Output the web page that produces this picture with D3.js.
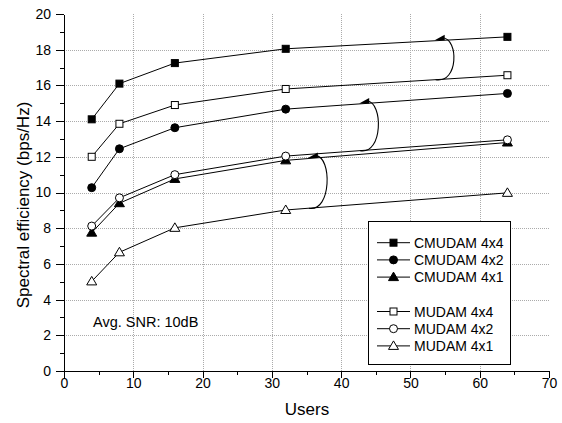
<!DOCTYPE html>
<html>
<head>
<meta charset="utf-8">
<script src="https://cdnjs.cloudflare.com/ajax/libs/d3/7.8.5/d3.min.js"></script>
<style>
body { margin: 0; background: #fff; }
svg text { font-family: Arial, "Liberation Sans", sans-serif; fill: #000; }
.grid line { stroke: #ababab; stroke-width: 1; stroke-dasharray: 1,1; }
.axis path, .axis line { stroke: #000; stroke-width: 1; shape-rendering: crispEdges; }
.series { fill: none; stroke: #000; stroke-width: 1; }
</style>
</head>
<body>
<svg class="main" width="562" height="423"></svg>
<script>
// x values (number of users)
var users = [4, 8, 16, 32, 64];

// spectral efficiency (bps/Hz)
var cmudam4x4 = [14.1, 16.1, 17.25, 18.05, 18.72];
var cmudam4x2 = [10.27, 12.45, 13.63, 14.67, 15.55];
var cmudam4x1 = [7.75, 9.4, 10.76, 11.8, 12.8];
var mudam4x4 = [12.0, 13.85, 14.9, 15.8, 16.57];
var mudam4x2 = [8.12, 9.7, 11.0, 12.04, 12.95];
var mudam4x1 = [5.02, 6.65, 8.02, 9.02, 9.98];

var seriesNames = ["CMUDAM 4x4", "CMUDAM 4x2", "CMUDAM 4x1", "MUDAM 4x4", "MUDAM 4x2", "MUDAM 4x1"];
var seriesValues = [cmudam4x4, cmudam4x2, cmudam4x1, mudam4x4, mudam4x2, mudam4x1];
var seriesShapes = ["square", "circle", "triangle", "square", "circle", "triangle"];
var seriesFilled = [true, true, true, false, false, false];

// curved arrows: x position (users), from series index -> to series index
var arrowX = [53.5, 42.6, 35.2];
var arrowFrom = [3, 4, 5];
var arrowTo = [0, 1, 2];

var xTicks = [0, 10, 20, 30, 40, 50, 60, 70];
var yTicks = [0, 2, 4, 6, 8, 10, 12, 14, 16, 18, 20];

var xLabel = "Users";
var yLabel = "Spectral efficiency (bps/Hz)";
var note = "Avg. SNR: 10dB";

var svg = d3.select("svg.main");

var x = d3.scaleLinear().domain([0, 70]).range([64, 549]);
var y = d3.scaleLinear().domain([0, 20]).range([371, 14]);

// grid
var grid = svg.append("g").attr("class", "grid");
grid.selectAll("line.gx")
    .data(xTicks.filter(function (d) { return d > 0 && d < 70; }))
    .enter().append("line")
    .attr("x1", function (d) { return Math.round(x(d)) + 0.5; })
    .attr("x2", function (d) { return Math.round(x(d)) + 0.5; })
    .attr("y1", y(0))
    .attr("y2", y(20));
grid.selectAll("line.gy")
    .data(yTicks.filter(function (d) { return d > 0 && d < 20; }))
    .enter().append("line")
    .attr("x1", x(0))
    .attr("x2", x(70))
    .attr("y1", function (d) { return Math.round(y(d)) + 0.5; })
    .attr("y2", function (d) { return Math.round(y(d)) + 0.5; });

// axes, major + minor ticks
function minorAxis(axis, scale, vals) {
    return axis(scale).tickValues(vals).tickSize(4).tickSizeOuter(0).tickFormat("");
}
svg.append("g").attr("class", "axis")
    .attr("transform", "translate(0," + y(0) + ")")
    .call(minorAxis(d3.axisBottom, x, d3.range(5, 70, 10)));
svg.append("g").attr("class", "axis")
    .attr("transform", "translate(" + x(0) + ",0)")
    .call(minorAxis(d3.axisLeft, y, d3.range(1, 20, 2)));

var xAxis = svg.append("g").attr("class", "axis")
    .attr("transform", "translate(0," + y(0) + ")")
    .call(d3.axisBottom(x).tickValues(xTicks).tickSize(7).tickSizeOuter(0).tickPadding(0));
var yAxis = svg.append("g").attr("class", "axis")
    .attr("transform", "translate(" + x(0) + ",0)")
    .call(d3.axisLeft(y).tickValues(yTicks).tickSize(8).tickSizeOuter(0).tickPadding(5));
svg.selectAll(".axis text").style("font-size", "14px").style("font-family", "Arial, 'Liberation Sans', sans-serif");

// axis titles
svg.append("text")
    .attr("x", 307).attr("y", 415)
    .attr("text-anchor", "middle")
    .style("font-size", "17px")
    .text(xLabel);
svg.append("text")
    .attr("transform", "translate(29,205) rotate(-90)")
    .attr("text-anchor", "middle")
    .style("font-size", "17px")
    .text(yLabel);

svg.append("text")
    .attr("x", 93).attr("y", 327)
    .style("font-size", "14.5px")
    .text(note);

// series lines
var line = d3.line()
    .x(function (d, i) { return x(users[i]); })
    .y(function (d) { return y(d); });

for (var s = 0; s < seriesValues.length; s++) {
    svg.append("path")
        .attr("class", "series")
        .attr("d", line(seriesValues[s]));
}

// arrows between series
function valueAt(vals, xv) {
    for (var i = 0; i < users.length - 1; i++) {
        if (xv >= users[i] && xv <= users[i + 1]) {
            var t = (xv - users[i]) / (users[i + 1] - users[i]);
            return vals[i] + t * (vals[i + 1] - vals[i]);
        }
    }
    return vals[vals.length - 1];
}

for (var a = 0; a < arrowX.length; a++) {
    var px = x(arrowX[a]);
    var yb = y(valueAt(seriesValues[arrowFrom[a]], arrowX[a]));
    var yt = y(valueAt(seriesValues[arrowTo[a]], arrowX[a]));
    svg.append("path")
        .attr("fill", "none")
        .attr("stroke", "#000")
        .attr("stroke-width", 1.1)
        .attr("d", "M" + (px + 1) + "," + yb +
            "C" + (px + 24) + "," + (yb + 4) + " " + (px + 24) + "," + (yt - 2) + " " + (px + 8) + "," + (yt - 3));
    svg.append("path")
        .attr("fill", "#000")
        .attr("d", "M" + px + "," + (yt - 0.5) + "L" + (px + 10) + "," + (yt - 6) + "L" + (px + 10) + "," + (yt - 0.5) + "Z");
}

// markers
function drawMarker(g, shape, filled, cx, cy) {
    var fill = filled ? "#000" : "#fff";
    if (shape == "square") {
        g.append("rect")
            .attr("x", cx - 3.5).attr("y", cy - 3.5)
            .attr("width", 7).attr("height", 7)
            .attr("fill", fill).attr("stroke", "#000").attr("stroke-width", 1);
    } else if (shape == "circle") {
        g.append("circle")
            .attr("cx", cx).attr("cy", cy).attr("r", 4)
            .attr("fill", fill).attr("stroke", "#000").attr("stroke-width", 1);
    } else {
        g.append("path")
            .attr("d", "M" + cx + "," + (cy - 5) + "L" + (cx + 5) + "," + (cy + 3.5) + "L" + (cx - 5) + "," + (cy + 3.5) + "Z")
            .attr("fill", fill).attr("stroke", "#000").attr("stroke-width", 1);
    }
}

var markers = svg.append("g");
for (var s = 0; s < seriesValues.length; s++) {
    for (var i = 0; i < users.length; i++) {
        drawMarker(markers, seriesShapes[s], seriesFilled[s], x(users[i]), y(seriesValues[s][i]));
    }
}

// legend
var legend = svg.append("g");
legend.append("rect")
    .attr("x", 368.5).attr("y", 221.5)
    .attr("width", 142).attr("height", 143)
    .attr("fill", "#fff").attr("stroke", "#000").attr("stroke-width", 1);

var legendRows = [0, 1, 2, 4, 5, 6];
for (var s = 0; s < seriesNames.length; s++) {
    var ly = 242.7 + 17.2 * legendRows[s];
    legend.append("line")
        .attr("x1", 377).attr("x2", 410)
        .attr("y1", ly).attr("y2", ly)
        .attr("stroke", "#000").attr("stroke-width", 1);
    drawMarker(legend, seriesShapes[s], seriesFilled[s], 393.5, ly);
    legend.append("text")
        .attr("x", 414).attr("y", ly + 5)
        .style("font-size", "14px")
        .text(seriesNames[s]);
}
</script>
</body>
</html>
